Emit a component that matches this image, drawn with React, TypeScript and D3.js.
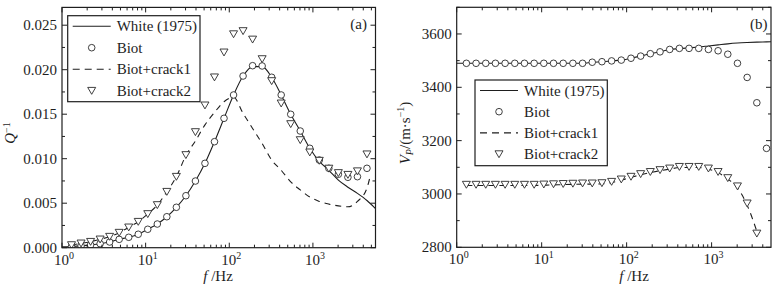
import React from 'react';
import * as d3 from 'd3';

// ---------- data ----------
const FREQS = [1.3, 1.69, 2.197, 2.856, 3.713, 4.827, 6.275, 8.157, 10.6, 13.79, 17.92, 23.3, 30.29, 39.37, 51.19, 66.54, 86.5, 112.5, 146.2, 190.0, 247.1, 321.2, 417.5, 542.8, 705.6, 917.3, 1192, 1550, 2015, 2620, 3406, 4427];

// (a) attenuation Q^-1
const Q_BIOT = [0.00013, 0.0002, 0.00032, 0.00045, 0.00064, 0.00094, 0.00117, 0.00151, 0.00207, 0.00266, 0.00348, 0.00454, 0.00584, 0.00749, 0.00948, 0.01191, 0.01454, 0.01716, 0.01929, 0.02045, 0.02042, 0.01915, 0.01716, 0.01499, 0.01311, 0.01117, 0.00985, 0.00892, 0.00825, 0.00791, 0.00798, 0.00892];
const Q_CRACK2 = [0.0003, 0.00049, 0.00067, 0.00094, 0.00124, 0.00169, 0.00229, 0.00292, 0.00379, 0.0048, 0.00629, 0.00798, 0.01042, 0.013, 0.016, 0.01915, 0.02195, 0.024, 0.02435, 0.0234, 0.0212, 0.01873, 0.01622, 0.0139, 0.0121, 0.01072, 0.00978, 0.0089, 0.0084, 0.0082, 0.0086, 0.0105];
const Q_WHITE_F = [1, 1.3, 1.69, 2.197, 2.856, 3.713, 4.827, 6.275, 8.157, 10.6, 13.79, 17.92, 23.3, 30.29, 39.37, 51.19, 66.54, 86.5, 112.5, 146.2, 190.0, 247.1, 321.2, 417.5, 542.8, 705.6, 917.3, 1192, 1550, 2015, 2620, 3406, 4427, 5600];
const Q_WHITE = [0.0001, 0.00013, 0.0002, 0.00032, 0.00045, 0.00064, 0.00094, 0.00117, 0.00151, 0.00207, 0.00266, 0.00348, 0.00454, 0.00584, 0.00749, 0.00948, 0.01191, 0.01454, 0.01716, 0.01929, 0.02035, 0.02035, 0.01915, 0.01716, 0.01499, 0.01311, 0.01117, 0.0097, 0.0087, 0.0076, 0.0068, 0.0061, 0.0053, 0.0044];
const Q_CRACK1_F = [1.3, 1.69, 2.197, 2.856, 3.713, 4.827, 6.275, 8.157, 10.6, 13.79, 17.92, 23.3, 30.29, 39.37, 51.19, 66.54, 86.5, 112.5, 146.2, 190.0, 247.1, 321.2, 417.5, 542.8, 705.6, 917.3, 1192, 1550, 2015, 2620, 3406, 4427, 4830];
const Q_CRACK1 = [0.0003, 0.00049, 0.00067, 0.00094, 0.00124, 0.00169, 0.00229, 0.00292, 0.00379, 0.0048, 0.00629, 0.00798, 0.01035, 0.012, 0.0138, 0.0152, 0.0164, 0.0169, 0.0151, 0.0134, 0.0117, 0.00985, 0.0087, 0.0074, 0.0065, 0.0057, 0.0052, 0.0049, 0.0047, 0.0046, 0.0052, 0.0067, 0.008];

// (b) velocity Vp
const VP_BIOT = [3490, 3490, 3490, 3490, 3490, 3490, 3490, 3490, 3490, 3490, 3490, 3490, 3490, 3494, 3496, 3499, 3502, 3509, 3517, 3526, 3533, 3542, 3546, 3546, 3546, 3542, 3537, 3524, 3490, 3437, 3342, 3171];
const VP_WHITE_F = [1, 1.3, 1.69, 2.197, 2.856, 3.713, 4.827, 6.275, 8.157, 10.6, 13.79, 17.92, 23.3, 30.29, 39.37, 51.19, 66.54, 86.5, 112.5, 146.2, 190.0, 247.1, 321.2, 417.5, 542.8, 705.6, 917.3, 1192, 1550, 2015, 2620, 3406, 4427, 5000];
const VP_WHITE = [3490, 3490, 3490, 3490, 3490, 3490, 3490, 3490, 3490, 3490, 3490, 3490, 3490, 3490, 3494, 3496, 3499, 3502, 3509, 3517, 3526, 3533, 3542, 3545, 3548, 3551, 3555, 3559, 3563, 3566, 3568, 3569.5, 3570.5, 3571];
const VP_CRACK2 = [3035, 3035, 3035, 3035, 3035, 3035, 3035, 3035, 3036, 3037, 3038, 3039, 3040, 3040, 3041, 3046, 3055, 3065, 3075, 3083, 3090, 3096, 3102, 3102, 3102, 3096, 3083, 3060, 3029, 2965, 2852];
const VP_CRACK1 = [3032, 3032, 3032, 3032, 3032, 3032, 3032, 3032, 3033, 3034, 3035, 3036, 3037, 3037, 3038, 3043, 3052, 3062, 3072, 3080, 3087, 3093, 3099, 3099, 3099, 3093, 3080, 3056, 3024, 2958, 2860];

const Q_TICKS = [0, 0.005, 0.01, 0.015, 0.02, 0.025];
const Q_MINOR = [0.0025, 0.0075, 0.0125, 0.0175, 0.0225];
const VP_TICKS = [2800, 3000, 3200, 3400, 3600];
const VP_MINOR = [2900, 3100, 3300, 3500, 3700];
const DECADES = [1, 10, 100, 1000];
const LEGEND_LABELS = ['White (1975)', 'Biot', 'Biot+crack1', 'Biot+crack2'];

// ---------- style ----------
const FONT = '"Liberation Serif", "Times New Roman", Times, serif';
const INK = '#1e1e1e';
const MK = '#2a2a2a';

type Pt = [number, number];

function Circle({ x, y }: { x: number; y: number }) {
  return <circle cx={x} cy={y} r={3.3} fill="white" stroke={MK} strokeWidth={0.9} />;
}
function Tri({ x, y }: { x: number; y: number }) {
  return <path d={`M${x - 4},${y - 3.3}L${x + 4},${y - 3.3}L${x},${y + 3.6}Z`} fill="white" stroke={MK} strokeWidth={0.9} />;
}

function Panel(props: any) {
  const { x, y, yTicks, yMinor, yFmt, white, crack1, biot, crack2, legend, tag, tagX, clipId } = props;
  const [x0, x1] = x.range();
  const [y0, y1] = y.range();
  const line = d3.line<Pt>().x(d => x(d[0])).y(d => y(d[1])).curve(d3.curveMonotoneX);
  const [xd0, xd1] = x.domain();
  const minor: number[] = [];
  DECADES.forEach(d => { for (let m = 2; m <= 9; m++) { const v = m * d; if (v > xd0 && v < xd1) minor.push(v); } });
  const maj = 5, mn = 3;
  return (
    <g>
      <defs>
        <clipPath id={clipId}><rect x={x0} y={y1} width={x1 - x0} height={y0 - y1} /></clipPath>
      </defs>
      <g clipPath={`url(#${clipId})`}>
        <path d={line(white) || ''} fill="none" stroke={INK} strokeWidth={1.1} />
        <path d={line(crack1) || ''} fill="none" stroke={INK} strokeWidth={1.1} strokeDasharray="6,5" />
        {biot.map((d: Pt, i: number) => <Circle key={'c' + i} x={x(d[0])} y={y(d[1])} />)}
        {crack2.map((d: Pt, i: number) => <Tri key={'t' + i} x={x(d[0])} y={y(d[1])} />)}
      </g>
      {/* ticks */}
      <g stroke={INK} strokeWidth={1}>
        {DECADES.map(v => (
          <g key={'xm' + v}>
            <line x1={x(v)} x2={x(v)} y1={y0} y2={y0 - maj} />
            <line x1={x(v)} x2={x(v)} y1={y1} y2={y1 + maj} />
          </g>
        ))}
        {minor.map(v => (
          <g key={'xn' + v}>
            <line x1={x(v)} x2={x(v)} y1={y0} y2={y0 - mn} />
            <line x1={x(v)} x2={x(v)} y1={y1} y2={y1 + mn} />
          </g>
        ))}
        {yTicks.map((v: number) => (
          <g key={'ym' + v}>
            <line x1={x0} x2={x0 + maj} y1={y(v)} y2={y(v)} />
            <line x1={x1} x2={x1 - maj} y1={y(v)} y2={y(v)} />
          </g>
        ))}
        {yMinor.map((v: number) => (
          <g key={'yn' + v}>
            <line x1={x0} x2={x0 + mn} y1={y(v)} y2={y(v)} />
            <line x1={x1} x2={x1 - mn} y1={y(v)} y2={y(v)} />
          </g>
        ))}
      </g>
      <rect x={x0} y={y1} width={x1 - x0} height={y0 - y1} fill="none" stroke={INK} strokeWidth={1.2} />
      {/* tick labels */}
      <g fontFamily={FONT} fontSize={15} fill={INK}>
        {DECADES.map((v, i) => (
          <text key={'xl' + v} x={x(v) + 2} y={y0 + 17} textAnchor="middle">
            10<tspan fontSize={10} dy={-6}>{i}</tspan>
          </text>
        ))}
        {yTicks.map((v: number) => (
          <text key={'yl' + v} x={x0 - 5} y={y(v) + 5} textAnchor="end">{yFmt(v)}</text>
        ))}
        <text x={tagX} y={y1 + 22} textAnchor="end">{tag}</text>
      </g>
      {/* legend */}
      <g fontFamily={FONT} fontSize={15} fill={INK}>
        <rect x={legend.x} y={legend.y} width={legend.w} height={legend.h} fill="white" stroke={INK} strokeWidth={1.2} />
        {LEGEND_LABELS.map((lab, i) => {
          const cy = legend.y + 10.5 + i * legend.dy;
          const lx0 = legend.x + 5, lx1 = legend.x + 43, mx = legend.x + 24;
          return (
            <g key={lab}>
              {i === 0 && <line x1={lx0} x2={lx1} y1={cy} y2={cy} stroke={INK} strokeWidth={1.1} />}
              {i === 1 && <Circle x={mx} y={cy} />}
              {i === 2 && <line x1={lx0} x2={lx1} y1={cy} y2={cy} stroke={INK} strokeWidth={1.1} strokeDasharray="7,5" />}
              {i === 3 && <Tri x={mx} y={cy} />}
              <text x={legend.x + 49} y={cy + 5}>{lab}</text>
            </g>
          );
        })}
      </g>
    </g>
  );
}

export default function App() {
  const xA = d3.scaleLog().domain([1, 5600]).range([62, 375.5]);
  const yA = d3.scaleLinear().domain([0, 0.027]).range([247.7, 7.4]);
  const xB = d3.scaleLog().domain([1, 5000]).range([456.7, 771]);
  const yB = d3.scaleLinear().domain([2800, 3700]).range([247.3, 7.3]);

  const zip = (f: number[], v: number[]): Pt[] => v.map((d, i) => [f[i], d]);

  return (
    <svg width={779} height={290} style={{ position: 'absolute', left: 0, top: 0, background: 'white' }}>
      <rect width={779} height={290} fill="white" />
      <Panel
        clipId="clipA"
        x={xA} y={yA}
        yTicks={Q_TICKS} yMinor={Q_MINOR} yFmt={d3.format('.3f')}
        white={zip(Q_WHITE_F, Q_WHITE)}
        crack1={zip(Q_CRACK1_F, Q_CRACK1)}
        biot={zip(FREQS, Q_BIOT)}
        crack2={zip(FREQS, Q_CRACK2)}
        legend={{ x: 67.7, y: 15.7, w: 132.3, h: 86, dy: 21.5 }}
        tag="(a)" tagX={367}
      />
      <Panel
        clipId="clipB"
        x={xB} y={yB}
        yTicks={VP_TICKS} yMinor={VP_MINOR} yFmt={d3.format('d')}
        white={zip(VP_WHITE_F, VP_WHITE)}
        crack1={zip(FREQS, VP_CRACK1)}
        biot={zip(FREQS, VP_BIOT)}
        crack2={zip(FREQS, VP_CRACK2)}
        legend={{ x: 475, y: 80, w: 132.3, h: 85.7, dy: 21.2 }}
        tag="(b)" tagX={767.5}
      />
      <g fontFamily={FONT} fontSize={15} fill={INK}>
        <text x={218} y={280.5} textAnchor="middle"><tspan fontStyle="italic">f</tspan> /Hz</text>
        <text x={634} y={280.5} textAnchor="middle"><tspan fontStyle="italic">f</tspan> /Hz</text>
        <text transform="translate(14.5,133) rotate(-90)" textAnchor="middle" fontSize={15}>
          <tspan fontStyle="italic">Q</tspan><tspan fontSize={10} dy={-5}>−1</tspan>
        </text>
        <text transform="translate(409.5,133) rotate(-90)" textAnchor="middle">
          <tspan fontStyle="italic">V</tspan><tspan fontStyle="italic" fontSize={10} dy={3}>P</tspan><tspan dy={-3}>/(m·s</tspan><tspan fontSize={10} dy={-6}>−1</tspan><tspan dy={6}>)</tspan>
        </text>
      </g>
    </svg>
  );
}
